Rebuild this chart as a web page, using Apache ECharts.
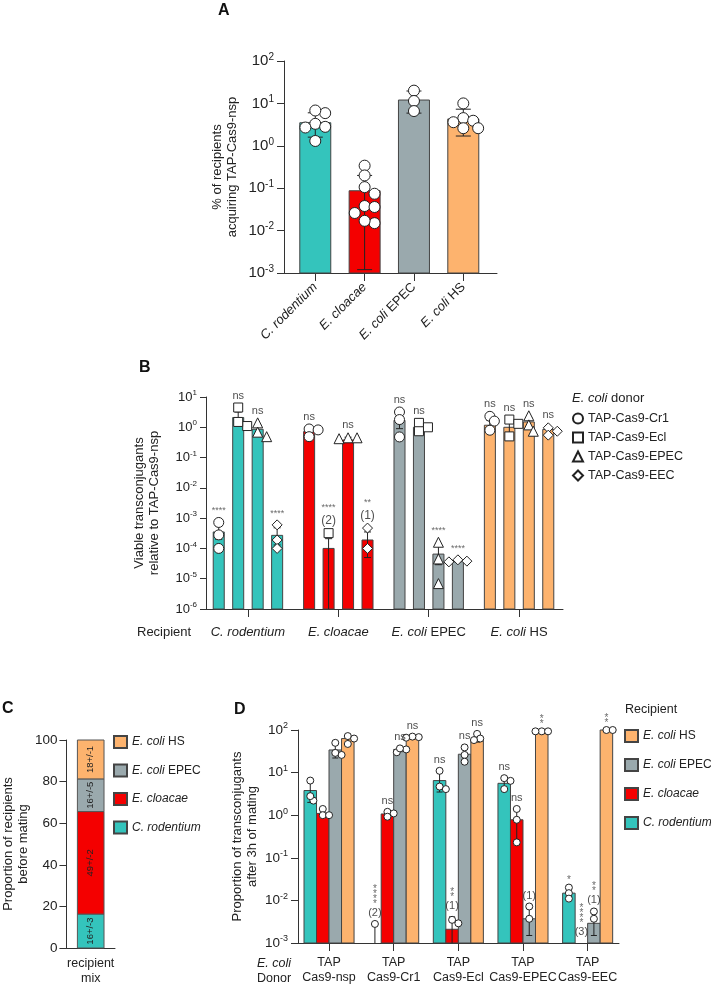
<!DOCTYPE html>
<html>
<head>
<meta charset="utf-8">
<script src="https://cdn.jsdelivr.net/npm/echarts@6/dist/echarts.min.js"></script>
<style>
  html, body { margin: 0; padding: 0; background: #fff; }
  #chart { width: 711px; height: 987px; }
</style>
</head>
<body>
<div id="chart"></div>
<script>
// ---------- data ----------
const recipients = ['C. rodentium', 'E. cloacae', 'E. coli EPEC', 'E. coli HS'];
const recipientColors = ['#34c4bc', '#f40000', '#9aa9ad', '#fdb36e'];

// A: % of recipients acquiring TAP-Cas9-nsp
const aMeans = [3.5, 0.087, 12, 4.3];
const aErrLow = [1.6, 0.0012, 5.9, 1.7];
const aErrHigh = [6.0, 0.2, 19.6, 7.3];
const aPoints = [
    [3.3, 5.9, 6.8, 2.8, 2.7, 1.3],
    [0.34, 0.2, 0.106, 0.074, 0.038, 0.036, 0.026, 0.015, 0.017],
    [20, 11.4, 6.6],
    [10, 4.5, 3.9, 3.6, 2.6, 2.6]
];

// B: [donor][recipient]
const donors = ['TAP-Cas9-Cr1', 'TAP-Cas9-Ecl', 'TAP-Cas9-EPEC', 'TAP-Cas9-EEC'];
const donorSymbols = ['circle', 'rect', 'triangle', 'diamond'];
const bMeans = [
    [3.5e-4, 0.72, 1.7, 1.17],
    [2.1, 1.0e-4, 1.0, 1.0],
    [0.86, 0.38, 6.5e-5, 1.5],
    [2.7e-4, 1.9e-4, 3.9e-5, 0.85]
];
const bErrLow = [
    [2.0e-4, 0.55, 0.9, 0.8],
    [1.3, 1e-7, 0.8, 0.6],
    [0.55, 0.36, 2.9e-5, 0.9],
    [1.3e-4, 5e-5, 3.6e-5, 0.6]
];
const bErrHigh = [
    [5.5e-4, 0.9, 2.6, 1.7],
    [3.2, 2.1e-4, 1.2, 1.6],
    [1.2, 0.47, 1.4e-4, 2.1],
    [4.8e-4, 3.5e-4, 4.2e-5, 1.0]
];
const bPoints = [
    [[7.2e-4, 2.8e-4, 1.0e-4], [0.88, 0.82, 0.49], [3.2, 1.8, 0.48], [2.3, 1.6, 0.8]],
    [[4.5, 1.1, 1.5], [3.2e-4], [1.4, 1.0, 0.74], [1.8, 1.3, 0.5]],
    [[1.4, 0.69, 0.49], [0.45, 0.42, 0.45], [1.6e-4, 4.5e-5, 6.9e-6], [2.4, 1.2, 0.74]],
    [[6e-4, 1.9e-4, 1e-4], [4.7e-4, 1e-4], [4.2e-5, 3.8e-5, 3.6e-5], [0.96, 0.74, 0.55]]
];
const bStars = [
    ['****', 'ns', 'ns', 'ns'],
    ['ns', '****', 'ns', 'ns'],
    ['ns', 'ns', '****', 'ns'],
    ['****', '**', '****', 'ns']
];
const bCounts = [
    ['', '', '', ''],
    ['', '(2)', '', ''],
    ['', '', '', ''],
    ['', '(1)', '', '']
];

// C: recipient mix before mating
const cShares = [16.3, 49.3, 15.7, 18.7];
const cLabels = ['16+/-3', '49+/-2', '16+/-5', '18+/-1'];

// D: [recipient][donor]
const dDonors = ['TAP\nCas9-nsp', 'TAP\nCas9-Cr1', 'TAP\nCas9-Ecl', 'TAP\nCas9-EPEC', 'TAP\nCas9-EEC'];
const dMeans = [
    [3.8, null, 6.5, 5.6, 0.0148],
    [1.1, 1.07, 2.1e-3, 0.78, null],
    [34, 35, 27, 3.7e-3, 2.9e-3],
    [63, 63, 58, 93, 100]
];
const dErrLow = [
    [2.0, 1e-6, 3.5, 4.2, 0.011],
    [0.9, 0.95, 1e-6, 0.2, null],
    [22, 31, 17, 1.5e-3, 1.5e-3],
    [48, 62, 52, 90, 98]
];
const dErrHigh = [
    [6.0, 2.8e-3, 11, 7.4, 0.019],
    [1.3, 1.2, 4.1e-3, 1.4, null],
    [47, 38, 38, 6.5e-3, 5e-3],
    [75, 68, 80, 95, 100]
];
const dPoints = [
    [[6.5, 2.2, 2.8], [2.8e-3], [11, 4.1, 4.7], [7.4, 6.4, 4.1], [0.02, 0.0148, 0.011]],
    [[1.4, 1.0, 1.0], [1.2, 1.1, 0.92], [2.9e-3, 3.5e-3], [1.4, 0.78, 0.23], []],
    [[50, 26, 29], [30, 35, 37], [39, 26, 18], [7.2e-3, 3.7e-3], [5.5e-3, 3.7e-3]],
    [[72, 63, 47], [68, 70, 66], [81, 63, 58], [93, 93, 93], [100, 100]]
];
const dStars = [
    ['', '****', 'ns', 'ns', '*'],
    ['', 'ns', '**', 'ns', '****'],
    ['', 'ns', 'ns', '', '**'],
    ['', 'ns', 'ns', '**', '**']
];
const dCounts = [
    ['', '(2)', '', '', ''],
    ['', '', '(1)', '', '(3)'],
    ['', '', '', '(1)', '(1)'],
    ['', '', '', '', '']
];

// ---------- helpers ----------
const FONT = 'Liberation Sans, Arial, sans-serif';
const INK = '#222';
const AXIS = { lineStyle: { color: '#333', width: 1 } };

function catLabel(name) {
    if (name.indexOf('E. coli') === 0) return '{i|E. coli}' + name.slice(7);
    return '{i|' + name + '}';
}
function powLabel(v) {
    return '{b|10}{s|' + Math.round(Math.log10(v)) + '}';
}
function powRich(base) {
    return {
        b: { fontSize: base, color: INK, fontFamily: FONT },
        s: { fontSize: Math.round(base * 0.65), color: INK, fontFamily: FONT, padding: [0, 0, 8, 0] }
    };
}

// simple beeswarm: offsets in x units so that markers don't pile up
function swarm(vals, pxX, pxDec, size, minFrac) {
    const order = vals.map((v, i) => i).sort((a, b) => vals[b] - vals[a]);
    const placed = [];
    const offs = [];
    order.forEach(i => {
        const y = Math.log10(vals[i]) * pxDec;
        for (let k = 0; k < 40; k++) {
            const dx = (k % 2 ? 1 : -1) * Math.ceil(k / 2) * size * 0.45;
            if (placed.every(p => Math.hypot(p.x - dx, p.y - y) >= size * minFrac)) {
                placed.push({ x: dx, y: y });
                offs[i] = dx / pxX;
                break;
            }
        }
    });
    return offs;
}

function barRenderer(halfW, yMin) {
    return function (params, api) {
        const x = api.value(0), v = api.value(1), ci = api.value(2);
        const p0 = api.coord([x - halfW, v]);
        const p1 = api.coord([x + halfW, yMin]);
        return {
            type: 'rect',
            shape: { x: p0[0], y: p0[1], width: p1[0] - p0[0], height: p1[1] - p0[1] },
            style: { fill: recipientColors[ci], stroke: '#444', lineWidth: 1 }
        };
    };
}

function errRenderer(cap, yMin) {
    return function (params, api) {
        const x = api.value(0);
        const loRaw = api.value(1);
        const lo = Math.max(loRaw, yMin), hi = api.value(2);
        const a = api.coord([x, lo]), b = api.coord([x, hi]);
        const st = { stroke: '#222', lineWidth: 1 };
        const kids = [
            { type: 'line', shape: { x1: a[0], y1: a[1], x2: b[0], y2: b[1] }, style: st },
            { type: 'line', shape: { x1: b[0] - cap / 2, y1: b[1], x2: b[0] + cap / 2, y2: b[1] }, style: st }
        ];
        if (loRaw >= yMin) {
            kids.push({ type: 'line', shape: { x1: a[0] - cap / 2, y1: a[1], x2: a[0] + cap / 2, y2: a[1] }, style: st });
        }
        return { type: 'group', children: kids };
    };
}

const pointStyle = { color: '#fff', borderColor: '#222', borderWidth: 1, opacity: 1 };

// ---------- layout constants ----------
const gA = { left: 284, top: 61, width: 213, height: 212 };
const gB = { left: 206, top: 397, width: 357, height: 212 };
const gC = { left: 62, top: 740, width: 53, height: 208 };
const gD = { left: 298, top: 730, width: 321, height: 213 };
const xA = [-0.634, 3.683], xB = [-0.464, 3.486], xD = [-0.48, 4.485];
const bPitch = 0.2154, bHalf = 0.061;
const dPitch = 0.1935, dHalf = 0.0968;

// ---------- build series ----------
const series = [];

// A
series.push({
    type: 'custom', xAxisIndex: 0, yAxisIndex: 0, z: 2,
    renderItem: barRenderer(0.314, 1e-3),
    encode: { x: 0, y: 1 },
    data: aMeans.map((v, i) => [i, v, i])
});
series.push({
    type: 'custom', xAxisIndex: 0, yAxisIndex: 0, z: 3,
    renderItem: errRenderer(15, 1e-3),
    encode: { x: 0, y: [1, 2] },
    data: aMeans.map((v, i) => [i, aErrLow[i], aErrHigh[i]])
});
const aPtData = [];
aPoints.forEach((vals, i) => {
    const offs = swarm(vals, gA.width / (xA[1] - xA[0]), gA.height / 5, 11, 0.8);
    vals.forEach((v, j) => aPtData.push([i + offs[j], v]));
});
series.push({
    type: 'scatter', xAxisIndex: 0, yAxisIndex: 0, z: 4,
    symbol: 'circle', symbolSize: 11, itemStyle: pointStyle,
    data: aPtData
});

// B
const bBarData = [], bErrData = [], bAnno = [], bAnnoText = [];
donors.forEach((d, di) => {
    recipients.forEach((r, ri) => {
        const x = ri + (di - 1.5) * bPitch;
        bBarData.push([x, bMeans[di][ri], ri]);
        bErrData.push([x, bErrLow[di][ri], bErrHigh[di][ri]]);
        const top = Math.max(bMeans[di][ri], bErrHigh[di][ri], ...bPoints[di][ri]);
        const parts = [];
        const s = bStars[di][ri];
        if (s) parts.push(s === 'ns' ? '{n|ns}' : '{s|' + s + '}');
        if (bCounts[di][ri]) parts.push('{c|' + bCounts[di][ri] + '}');
        bAnno.push([x, top]);
        bAnnoText.push(parts.join('\n'));
    });
});
series.push({
    type: 'custom', xAxisIndex: 1, yAxisIndex: 1, z: 2,
    renderItem: barRenderer(bHalf, 1e-6),
    encode: { x: 0, y: 1 },
    data: bBarData
});
series.push({
    type: 'custom', xAxisIndex: 1, yAxisIndex: 1, z: 3,
    renderItem: errRenderer(7, 1e-6),
    encode: { x: 0, y: [1, 2] },
    data: bErrData
});
donors.forEach((d, di) => {
    const data = [];
    recipients.forEach((r, ri) => {
        const vals = bPoints[di][ri];
        const offs = swarm(vals, gB.width / (xB[1] - xB[0]), gB.height / 7, 10, 0.65);
        vals.forEach((v, j) => data.push([ri + (di - 1.5) * bPitch + offs[j], v]));
    });
    series.push({
        name: d, type: 'scatter', xAxisIndex: 1, yAxisIndex: 1, z: 4,
        symbol: donorSymbols[di], symbolSize: di === 1 ? 9 : 10,
        itemStyle: pointStyle, data: data
    });
});
series.push({
    type: 'scatter', xAxisIndex: 1, yAxisIndex: 1, z: 5,
    symbolSize: 1, itemStyle: { color: 'transparent' }, silent: true,
    data: bAnno,
    label: {
        show: true, position: 'top', distance: 5,
        formatter: p => bAnnoText[p.dataIndex],
        rich: {
            n: { fontSize: 11, color: INK, fontFamily: FONT, lineHeight: 13 },
            s: { fontSize: 9, color: '#444', fontFamily: FONT, lineHeight: 12 },
            c: { fontSize: 12, color: INK, fontFamily: FONT, lineHeight: 14 }
        }
    }
});

// C
let acc = 0;
const cData = cShares.map((v, i) => { const row = [0, acc, acc + v, i]; acc += v; return row; });
series.push({
    type: 'custom', xAxisIndex: 2, yAxisIndex: 2, z: 2,
    encode: { x: 0, y: [1, 2] },
    data: cData,
    renderItem: function (params, api) {
        const a = api.coord([-0.274, api.value(2)]);
        const b = api.coord([0.274, api.value(1)]);
        const ci = api.value(3);
        return {
            type: 'group',
            children: [
                { type: 'rect', shape: { x: a[0], y: a[1], width: b[0] - a[0], height: b[1] - a[1] },
                  style: { fill: recipientColors[ci], stroke: '#555', lineWidth: 1 } },
                { type: 'text', x: (a[0] + b[0]) / 2, y: (a[1] + b[1]) / 2, rotation: Math.PI / 2,
                  style: { text: cLabels[params.dataIndex], fontSize: 9.5, fontFamily: FONT, fill: INK,
                           align: 'center', verticalAlign: 'middle' } }
            ]
        };
    }
});

// D
const dAnno = [], dAnnoText = [];
recipients.forEach((r, ri) => {
    const bars = [], errs = [];
    dDonors.forEach((d, di) => {
        const x = di + (ri - 1.5) * dPitch;
        if (dMeans[ri][di] !== null) bars.push([x, dMeans[ri][di], ri]);
        if (dErrLow[ri][di] !== null) errs.push([x, dErrLow[ri][di], dErrHigh[ri][di]]);
        const parts = [];
        const s = dStars[ri][di];
        if (s === 'ns') parts.push('{n|ns}');
        else if (s) parts.push(s.split('').map(() => '{v|*}').join('\n'));
        if (dCounts[ri][di]) parts.push('{c|' + dCounts[ri][di] + '}');
        if (parts.length) {
            const cand = [dMeans[ri][di] || 1e-3, dErrHigh[ri][di] || 1e-3].concat(dPoints[ri][di]);
            dAnno.push([x, Math.max(...cand)]);
            dAnnoText.push(parts.join('\n'));
        }
    });
    series.push({
        name: r, type: 'custom', xAxisIndex: 3, yAxisIndex: 3, z: 2,
        itemStyle: { color: recipientColors[ri], borderColor: '#444', borderWidth: 1 },
        renderItem: barRenderer(dHalf, 1e-3),
        encode: { x: 0, y: 1 },
        data: bars
    });
    series.push({
        type: 'custom', xAxisIndex: 3, yAxisIndex: 3, z: 3,
        renderItem: errRenderer(6, 1e-3),
        encode: { x: 0, y: [1, 2] },
        data: errs
    });
});
const dPtData = [];
recipients.forEach((r, ri) => {
    dDonors.forEach((d, di) => {
        const vals = dPoints[ri][di];
        const offs = swarm(vals, gD.width / (xD[1] - xD[0]), gD.height / 5, 7, 0.7);
        vals.forEach((v, j) => dPtData.push([di + (ri - 1.5) * dPitch + offs[j], v]));
    });
});
series.push({
    type: 'scatter', xAxisIndex: 3, yAxisIndex: 3, z: 4,
    symbol: 'circle', symbolSize: 7, itemStyle: pointStyle, data: dPtData
});
series.push({
    type: 'scatter', xAxisIndex: 3, yAxisIndex: 3, z: 5,
    symbolSize: 1, itemStyle: { color: 'transparent' }, silent: true,
    data: dAnno,
    label: {
        show: true, position: 'top', distance: 4,
        formatter: p => dAnnoText[p.dataIndex],
        rich: {
            n: { fontSize: 11, color: INK, fontFamily: FONT, lineHeight: 13 },
            v: { fontSize: 10, color: '#444', fontFamily: FONT, lineHeight: 5 },
            c: { fontSize: 11, color: INK, fontFamily: FONT, lineHeight: 13 }
        }
    }
});

// ---------- axes ----------
const italicRich = { i: { fontStyle: 'italic', fontSize: 13, color: INK, fontFamily: FONT } };
const xAxes = [
    { gridIndex: 0, type: 'value', min: xA[0], max: xA[1], axisLine: AXIS, splitLine: { show: false },
      axisTick: { customValues: [0, 1, 2, 3], length: 8, lineStyle: { color: '#333' } },
      axisLabel: { customValues: [0, 1, 2, 3], rotate: 45, margin: 12, fontSize: 13, color: INK, fontFamily: FONT,
                   formatter: v => catLabel(recipients[Math.round(v)]), rich: italicRich } },
    { gridIndex: 1, type: 'value', min: xB[0], max: xB[1], axisLine: AXIS, splitLine: { show: false },
      axisTick: { customValues: [0, 1, 2, 3], length: 8, lineStyle: { color: '#333' } },
      axisLabel: { customValues: [0, 1, 2, 3], margin: 17, fontSize: 13, color: INK, fontFamily: FONT,
                   formatter: v => catLabel(recipients[Math.round(v)]), rich: italicRich } },
    { gridIndex: 2, type: 'value', min: -0.5, max: 0.5, axisLine: AXIS, splitLine: { show: false },
      axisTick: { show: false },
      axisLabel: { customValues: [0], margin: 8, fontSize: 12.5, lineHeight: 15, color: INK, fontFamily: FONT,
                   formatter: () => 'recipient\nmix' } },
    { gridIndex: 3, type: 'value', min: xD[0], max: xD[1], axisLine: AXIS, splitLine: { show: false },
      axisTick: { customValues: [0, 1, 2, 3, 4], length: 8, lineStyle: { color: '#333' } },
      axisLabel: { customValues: [0, 1, 2, 3, 4], margin: 12, fontSize: 12.5, lineHeight: 15, color: INK, fontFamily: FONT,
                   formatter: v => dDonors[Math.round(v)] } }
];
const nameStyle = { fontSize: 13, lineHeight: 15, color: INK, fontFamily: FONT };
const yLine = { show: true, onZero: false, lineStyle: AXIS.lineStyle };
const yAxes = [
    { gridIndex: 0, type: 'log', logBase: 10, min: 1e-3, max: 100, axisLine: yLine,
      axisTick: { show: true, length: 7, lineStyle: { color: '#333' } }, splitLine: { show: false }, minorTick: { show: false },
      axisLabel: { formatter: powLabel, rich: powRich(15), margin: 10 },
      name: '% of recipients\nacquiring TAP-Cas9-nsp', nameLocation: 'middle', nameGap: 44, nameTextStyle: nameStyle },
    { gridIndex: 1, type: 'log', logBase: 10, min: 1e-6, max: 10, axisLine: yLine,
      axisTick: { show: true, length: 6, lineStyle: { color: '#333' } }, splitLine: { show: false },
      axisLabel: { formatter: powLabel, rich: powRich(13), margin: 9 },
      name: 'Viable transconjugants\nrelative to TAP-Cas9-nsp', nameLocation: 'middle', nameGap: 44, nameTextStyle: nameStyle },
    { gridIndex: 2, type: 'value', min: 0, max: 100, interval: 20, axisLine: yLine,
      axisTick: { show: true, length: 7, lineStyle: { color: '#333' } }, splitLine: { show: false },
      axisLabel: { fontSize: 13.5, color: INK, fontFamily: FONT, margin: 9 },
      name: 'Proportion of recipients\nbefore mating', nameLocation: 'middle', nameGap: 35, nameTextStyle: nameStyle },
    { gridIndex: 3, type: 'log', logBase: 10, min: 1e-3, max: 100, axisLine: yLine,
      axisTick: { show: true, length: 7, lineStyle: { color: '#333' } }, splitLine: { show: false },
      axisLabel: { formatter: powLabel, rich: powRich(13.5), margin: 10 },
      name: 'Proportion of transconjugants\nafter 3h of mating', nameLocation: 'middle', nameGap: 38, nameTextStyle: nameStyle }
];

// ---------- legends ----------
const legendRich = { i: { fontStyle: 'italic', fontSize: 12, color: INK, fontFamily: FONT } };
const recipLegendOrder = ['E. coli HS', 'E. coli EPEC', 'E. cloacae', 'C. rodentium'];
const legends = [
    { data: donors, orient: 'vertical', left: 572, top: 412, padding: 0, itemWidth: 10, itemHeight: 10, itemGap: 6,
      selectedMode: false, textStyle: { fontSize: 12.5, color: INK, fontFamily: FONT } },
    { data: recipLegendOrder, orient: 'vertical', left: 113, top: 735, padding: 0, icon: 'rect', itemWidth: 13, itemHeight: 12,
      itemGap: 14.5, selectedMode: false, formatter: catLabel,
      textStyle: { fontSize: 12, color: INK, fontFamily: FONT, rich: legendRich } },
    { data: recipLegendOrder, orient: 'vertical', left: 624, top: 729, padding: 0, icon: 'rect', itemWidth: 13, itemHeight: 12,
      itemGap: 15, selectedMode: false, formatter: catLabel,
      textStyle: { fontSize: 12, color: INK, fontFamily: FONT, rich: legendRich } }
];

// ---------- static texts ----------
const letter = (t, x, y) => ({ type: 'text', left: x, top: y,
    style: { text: t, font: 'bold 16px ' + FONT, fill: '#111' } });
const graphics = [
    letter('A', 218, 3),
    letter('B', 139, 360),
    letter('C', 2, 701),
    letter('D', 234, 702),
    { type: 'text', left: 572, top: 392,
      style: { text: '{i|E. coli} donor', fontSize: 13, fill: INK, fontFamily: FONT,
               rich: { i: { fontStyle: 'italic', fontSize: 13, fill: INK, fontFamily: FONT } } } },
    { type: 'text', left: 137, top: 626,
      style: { text: 'Recipient', fontSize: 13, fill: INK, fontFamily: FONT } },
    { type: 'text', left: 625, top: 703,
      style: { text: 'Recipient', fontSize: 12.5, fill: INK, fontFamily: FONT } },
    { type: 'text', left: 257, top: 956,
      style: { text: '{i|E. coli}\nDonor', fontSize: 12.5, lineHeight: 15, fill: INK, fontFamily: FONT,
               rich: { i: { fontStyle: 'italic', fontSize: 12.5, lineHeight: 15, fill: INK, fontFamily: FONT } } } }
];

const chart = echarts.init(document.getElementById('chart'), null, { renderer: 'canvas' });
chart.setOption({
    animation: false,
    backgroundColor: '#fff',
    textStyle: { fontFamily: FONT },
    grid: [gA, gB, gC, gD],
    xAxis: xAxes,
    yAxis: yAxes,
    legend: legends,
    graphic: graphics,
    series: series
});
</script>
</body>
</html>
